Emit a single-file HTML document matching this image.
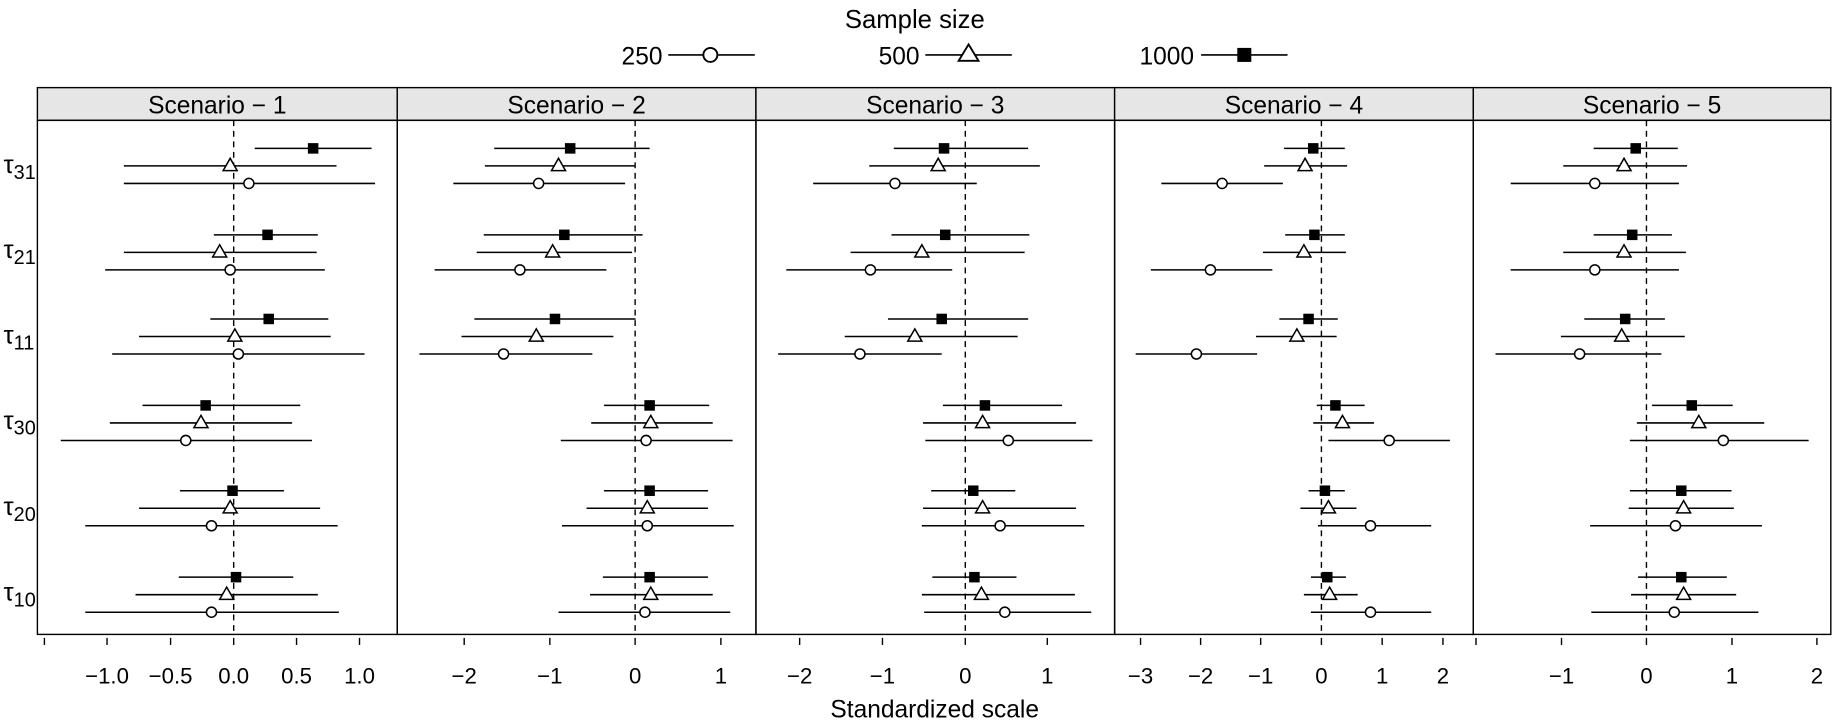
<!DOCTYPE html>
<html><head><meta charset="utf-8"><style>html,body{margin:0;padding:0;background:#fff}svg{display:block}</style></head>
<body>
<svg id="s" width="1832" height="728" viewBox="0 0 1568 623.1" xmlns="http://www.w3.org/2000/svg" font-family="Liberation Sans, sans-serif">
<text x="783" y="24" font-size="22" text-anchor="middle">Sample size</text>
<text x="567" y="55" font-size="21" text-anchor="end">250</text>
<line x1="572" y1="47" x2="646" y2="47" stroke="#000" stroke-width="1.4"/>
<circle cx="608" cy="47" r="6" fill="#fff" stroke="#000" stroke-width="1.6"/>
<text x="787" y="55" font-size="21" text-anchor="end">500</text>
<line x1="792" y1="47" x2="866" y2="47" stroke="#000" stroke-width="1.4"/>
<polygon points="829,38 837.5,52 820.5,52" fill="#fff" stroke="#000" stroke-width="1.6"/>
<text x="1022" y="55" font-size="21" text-anchor="end">1000</text>
<line x1="1028" y1="47" x2="1102" y2="47" stroke="#000" stroke-width="1.4"/>
<rect x="1059" y="41" width="12" height="12" fill="#000"/>
<text x="800" y="614" font-size="21" text-anchor="middle">Standardized scale</text>
<g id="g"></g>
</svg>
<script>
var g=document.getElementById('g'),h='';
var P=[32,340,647,954,1261,1567];
var zero=[200,543.6,826.2,1131,1409.2];
for(var i=0;i<5;i++){
 h+='<rect x="'+P[i]+'" y="75" width="'+(P[i+1]-P[i])+'" height="28" fill="#e6e6e6" stroke="#000" stroke-width="1.2"/>';
 h+='<text x="'+(P[i]+P[i+1])/2+'" y="97" font-size="21" text-anchor="middle">Scenario − '+(i+1)+'</text>';
 h+='<rect x="'+P[i]+'" y="103" width="'+(P[i+1]-P[i])+'" height="440" fill="none" stroke="#000" stroke-width="1.2"/>';
 h+='<line x1="'+zero[i]+'" y1="103" x2="'+zero[i]+'" y2="543" stroke="#000" stroke-width="1.2" stroke-dasharray="5,4"/>';
}
var T=[[38,''],[91.6,'−1.0'],[146,'−0.5'],[200,'0.0'],[253.8,'0.5'],[307.7,'1.0'],
[397.3,'−2'],[470.6,'−1'],[543.6,'0'],[617,'1'],
[684.4,'−2'],[755.3,'−1'],[826.2,'0'],[896.4,'1'],
[976.2,'−3'],[1027.6,'−2'],[1079,'−1'],[1131,'0'],[1183,'1'],[1235,'2'],
[1263.3,''],[1336.5,'−1'],[1409.2,'0'],[1482.4,'1'],[1555.1,'2']];
T.forEach(function(t){h+='<line x1="'+t[0]+'" y1="546" x2="'+t[0]+'" y2="552" stroke="#000" stroke-width="1.2"/>';
 if(t[1])h+='<text x="'+t[0]+'" y="585" font-size="19" text-anchor="middle">'+t[1]+'</text>';});
var labs=[['31',142],['21',215],['11',288],['30',361],['20',435],['10',508]];
labs.forEach(function(l){h+='<text x="3" y="'+(l[1]+6)+'" font-size="22">τ<tspan font-size="17" dy="5">'+l[0]+'</tspan></text>';});
var D=[
[[268,218,318,197,106,288,213,106,321],[229,183,272,188,106,271,197,90,278],[230,180,281,201,119,283,204,96,312],[176,122,257,172,94,250,159,52,267],[199,154,243,197,119,274,181,73,289],[202,153,251,194,116,272,181,73,290]],
[[488,423,556,478,415,543,461,388,535],[483,414,550,473,408,541,445,372,519],[475,406,544,459,395,525,431,359,507],[556,517,607,557,506,610,553,480,627],[556,517,606,554,502,606,554,481,628],[556,516,606,557,505,610,552,478,625]],
[[808,765,880,803,744,890,766,696,836],[809,763,881,789,728,877,745,673,815],[806,760,880,783,723,871,736,666,806],[843,807,909,841,790,921,863,792,935],[833,797,869,841,790,921,856,789,928],[834,798,870,840,789,920,860,791,934]],
[[1124,1099,1151,1117,1082,1153,1046,994,1098],[1125,1100,1151,1116,1081,1152,1036,985,1089],[1120,1095,1145,1110,1075,1144,1024,972,1076],[1143,1127,1168,1149,1124,1176,1189,1137,1241],[1134,1120,1151,1137,1113,1161,1173,1128,1225],[1136,1122,1152,1138,1116,1162,1173,1122,1225]],
[[1400,1364,1436,1390,1338,1444,1365,1293,1437],[1397,1364,1431,1390,1338,1443,1365,1293,1437],[1391,1356,1425,1388,1336,1442,1352,1280,1422],[1448,1414,1483,1454,1401,1510,1475,1395,1548],[1439,1395,1482,1441,1394,1484,1434,1361,1508],[1439,1402,1478,1441,1396,1486,1433,1362,1505]]];
var Y=[127,201,273,347,420,494];
D.forEach(function(p){p.forEach(function(r,k){var y=Y[k];
 var ln=function(a,b,yy){h+='<line x1="'+a+'" y1="'+yy+'" x2="'+b+'" y2="'+yy+'" stroke="#000" stroke-width="1.3"/>';};
 ln(r[1],r[2],y);ln(r[4],r[5],y+15);ln(r[7],r[8],y+30);
 h+='<rect x="'+(r[0]-4.5)+'" y="'+(y-4.5)+'" width="9" height="9" fill="#000"/>';
 h+='<polygon points="'+r[3]+','+(y+8.5)+' '+(r[3]+6)+','+(y+19)+' '+(r[3]-6)+','+(y+19)+'" fill="#fff" stroke="#000" stroke-width="1.3"/>';
 h+='<circle cx="'+r[6]+'" cy="'+(y+30)+'" r="4.3" fill="#fff" stroke="#000" stroke-width="1.3"/>';
});});
g.innerHTML=h;
</script>
</body></html>
